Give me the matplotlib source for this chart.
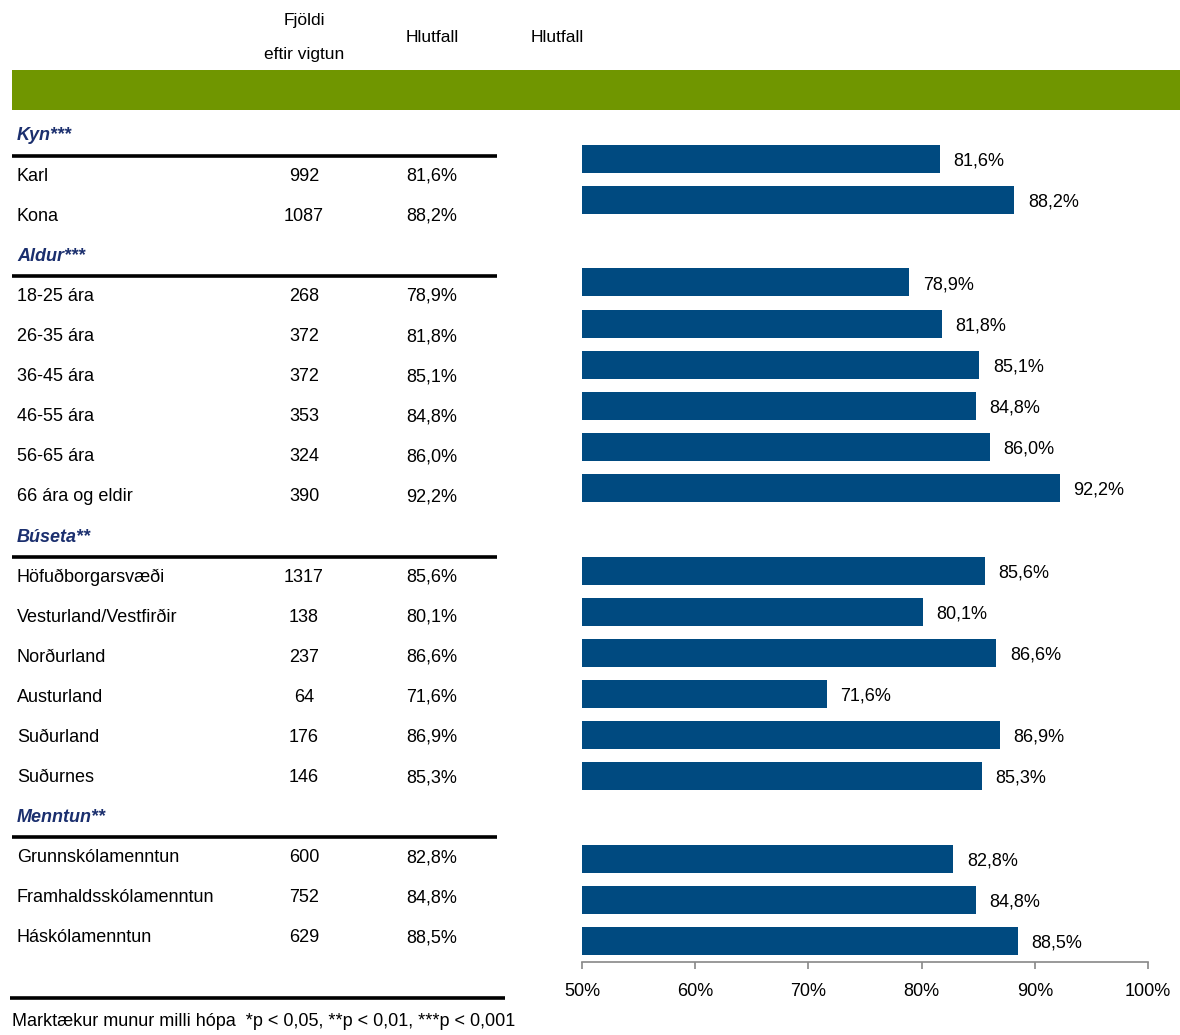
import matplotlib
matplotlib.use("Agg")
import matplotlib.pyplot as plt
from matplotlib import font_manager

# ---------------- data ----------------
groups = ["Kyn***", "Aldur***", "Búseta**", "Menntun**"]
kyn_labels = ["Karl", "Kona"]
kyn_counts = [992, 1087]
kyn_pct = [81.6, 88.2]
aldur_labels = ["18-25 ára", "26-35 ára", "36-45 ára", "46-55 ára", "56-65 ára", "66 ára og eldir"]
aldur_counts = [268, 372, 372, 353, 324, 390]
aldur_pct = [78.9, 81.8, 85.1, 84.8, 86.0, 92.2]
buseta_labels = ["Höfuðborgarsvæði", "Vesturland/Vestfirðir", "Norðurland", "Austurland", "Suðurland", "Suðurnes"]
buseta_counts = [1317, 138, 237, 64, 176, 146]
buseta_pct = [85.6, 80.1, 86.6, 71.6, 86.9, 85.3]
menntun_labels = ["Grunnskólamenntun", "Framhaldsskólamenntun", "Háskólamenntun"]
menntun_counts = [600, 752, 629]
menntun_pct = [82.8, 84.8, 88.5]
x_ticks = [50, 60, 70, 80, 90, 100]
header_count = "Fjöldi\neftir vigtun"
header_pct = "Hlutfall"
footnote = "Marktækur munur milli hópa  *p < 0,05, **p < 0,01, ***p < 0,001"

# ---------------- style ----------------
avail = {f.name for f in font_manager.fontManager.ttflist}
fam = [f for f in ["Liberation Sans Narrow", "Liberation Sans", "DejaVu Sans"] if f in avail]
plt.rcParams["font.family"] = fam
BAR = "#004a80"
GREEN = "#709600"
NAVY = "#1b2f6e"
FS = 13

W, H = 1180, 1035
fig = plt.figure(figsize=(W / 100, H / 100), dpi=100)

# pixel-space overlay for the table
tab = fig.add_axes([0, 0, 1, 1])
tab.set_xlim(0, W)
tab.set_ylim(H, 0)
tab.axis("off")

rows = []
sections = [
    (groups[0], kyn_labels, kyn_counts, kyn_pct),
    (groups[1], aldur_labels, aldur_counts, aldur_pct),
    (groups[2], buseta_labels, buseta_counts, buseta_pct),
    (groups[3], menntun_labels, menntun_counts, menntun_pct),
]
for g, labs, cnts, pcts in sections:
    rows.append(("h", g, None, None))
    for l, c, p in zip(labs, cnts, pcts):
        rows.append(("r", l, c, p))

def fmt(p):
    return f"{p:.1f}%".replace(".", ",")

# header
tab.text(304, 21, header_count.split("\n")[0], ha="center", va="center", fontsize=FS - 0.5)
tab.text(304, 55, header_count.split("\n")[1], ha="center", va="center", fontsize=FS - 0.5)
tab.text(432, 37, header_pct, ha="center", va="center", fontsize=FS - 0.5)
tab.text(557, 37, header_pct, ha="center", va="center", fontsize=FS - 0.5)
tab.add_patch(plt.Rectangle((12, 70), W - 12, 40, color=GREEN, lw=0))

ROW0, ROWSTEP = 136, 40.1
for i, (kind, lab, cnt, pct) in enumerate(rows):
    y = ROW0 + ROWSTEP * i
    if kind == "h":
        tab.text(17, y, lab, ha="left", va="center", fontsize=FS, color=NAVY,
                 fontweight="bold", fontstyle="italic")
        tab.plot([12, 497], [y + 19.5, y + 19.5], color="black", lw=2.6, solid_capstyle="butt")
    else:
        tab.text(17, y, lab, ha="left", va="center", fontsize=FS)
        tab.text(304, y, str(cnt), ha="center", va="center", fontsize=FS)
        tab.text(432, y, fmt(pct), ha="center", va="center", fontsize=FS)

tab.plot([10, 505], [998, 998], color="black", lw=2.6, solid_capstyle="butt")
tab.text(12, 1021, footnote, ha="left", va="center", fontsize=FS)

# ---------------- bar chart ----------------
BAR0, BARSTEP = 159, 41.16
ax_left, ax_right = 582, 1148
ax_top, ax_bot = 120, 962
ax = fig.add_axes([ax_left / W, 1 - ax_bot / H, (ax_right - ax_left) / W, (ax_bot - ax_top) / H])
ax.patch.set_alpha(0)
ymin_slot = (ax_bot - BAR0) / BARSTEP
ymax_slot = (ax_top - BAR0) / BARSTEP
ax.set_ylim(ymin_slot, ymax_slot)
ax.set_xlim(x_ticks[0], x_ticks[-1])

for i, (kind, lab, cnt, pct) in enumerate(rows):
    if kind != "r":
        continue
    slot = i - 1
    ax.barh(slot, pct - x_ticks[0], left=x_ticks[0], height=28 / BARSTEP, color=BAR, lw=0)
    ax.text(pct + 1.2, slot + 0.05, fmt(pct), ha="left", va="center", fontsize=FS)

for s in ["top", "right", "left"]:
    ax.spines[s].set_visible(False)
ax.spines["bottom"].set_color("#888888")
ax.spines["bottom"].set_linewidth(1.2)
ax.set_yticks([])
ax.set_xticks(x_ticks)
ax.set_xticklabels([f"{t}%" for t in x_ticks], fontsize=FS)
ax.tick_params(axis="x", length=5, color="#888888", width=1.2, pad=10)

fig.savefig("out.png", dpi=100)
